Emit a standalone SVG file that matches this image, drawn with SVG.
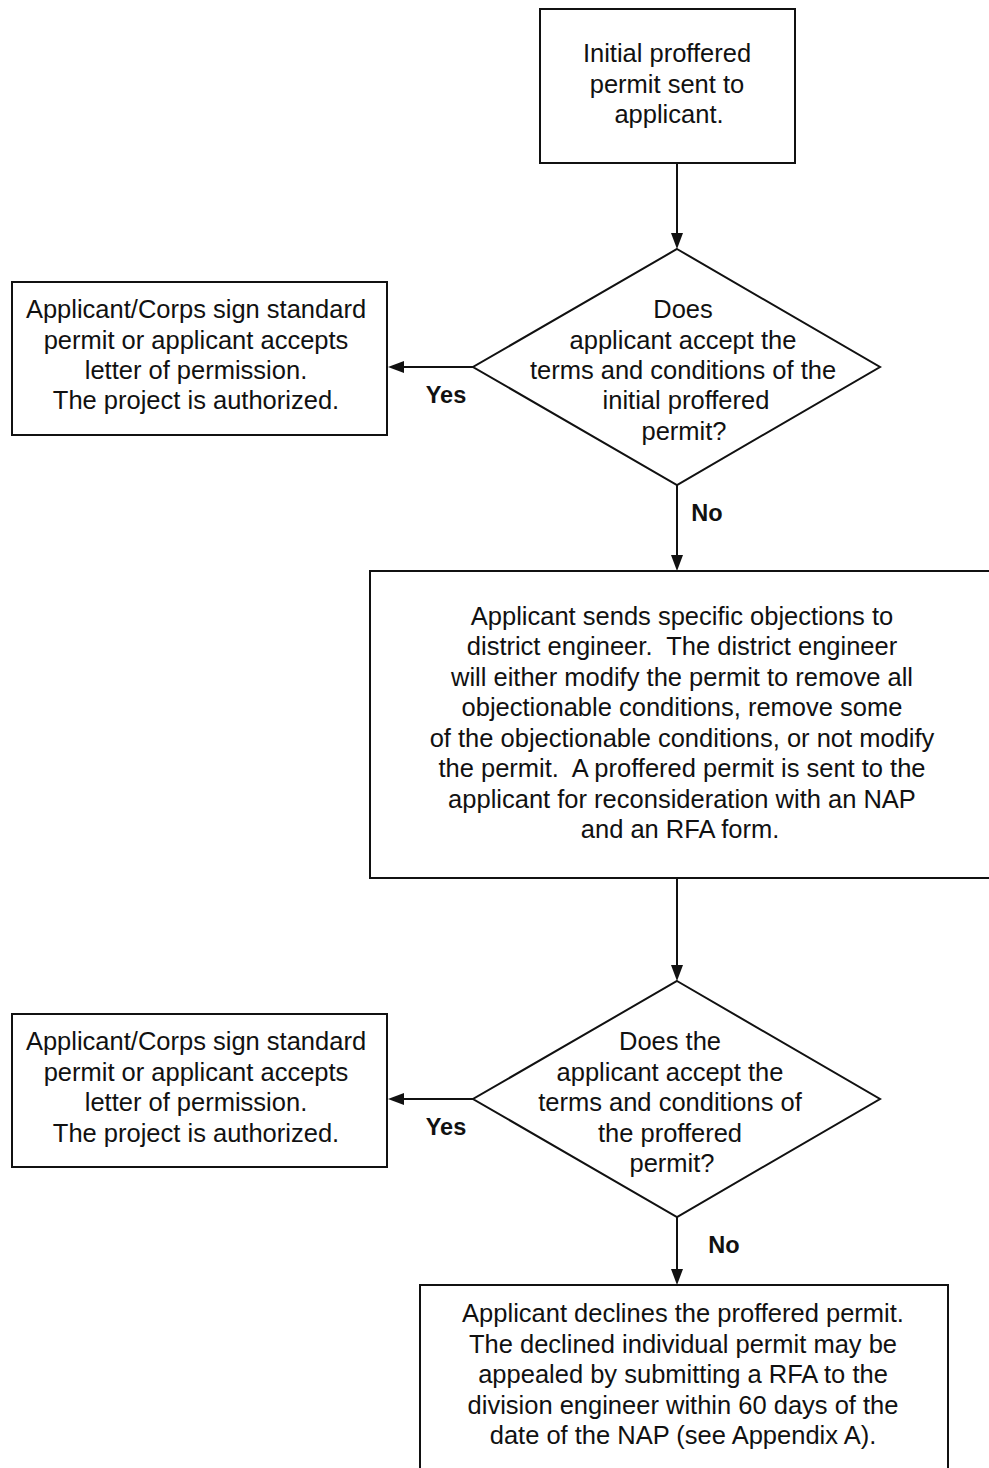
<svg xmlns="http://www.w3.org/2000/svg" width="989" height="1468" viewBox="0 0 989 1468">
<style>
.box{fill:#fff;stroke:#111;stroke-width:2}
.t{font-family:"Liberation Sans",Arial,sans-serif;font-size:25.5px;fill:#111;text-anchor:middle;white-space:pre}
.lb{font-family:"Liberation Sans",Arial,sans-serif;font-size:23.5px;font-weight:bold;fill:#111;text-anchor:middle}
.ln{stroke:#111;stroke-width:2;fill:none}
.hd{fill:#111}
</style>
<rect width="989" height="1468" fill="#fff"/>
<g id="connectors">
<line class="ln" x1="677" y1="163" x2="677" y2="234"/>
<path class="hd" d="M671,233 L683,233 L677,249 z"/>
<line class="ln" x1="473" y1="367" x2="402" y2="367"/>
<path class="hd" d="M388,367 L404,361 L404,373 z"/>
<line class="ln" x1="677" y1="485" x2="677" y2="556"/>
<path class="hd" d="M671,555 L683,555 L677,571 z"/>
<line class="ln" x1="677" y1="878" x2="677" y2="966"/>
<path class="hd" d="M671,965 L683,965 L677,981 z"/>
<line class="ln" x1="473" y1="1099" x2="402" y2="1099"/>
<path class="hd" d="M388,1099 L404,1093 L404,1105 z"/>
<line class="ln" x1="677" y1="1217" x2="677" y2="1270"/>
<path class="hd" d="M671,1269 L683,1269 L677,1285 z"/>
<text class="lb" x="446" y="403">Yes</text>
<text class="lb" x="707" y="521">No</text>
<text class="lb" x="446" y="1135">Yes</text>
<text class="lb" x="724" y="1253">No</text>
</g>
<g id="start">
<rect class="box" x="540" y="9" width="255" height="154"/>
<text class="t" x="667" y="62">Initial proffered</text>
<text class="t" x="667" y="93">permit sent to</text>
<text class="t" x="669" y="123">applicant.</text>
</g>
<g id="decision1">
<polygon class="box" points="677,249 880,367 677,485 473,367"/>
<text class="t" x="683" y="318">Does</text>
<text class="t" x="683" y="349">applicant accept the</text>
<text class="t" x="683" y="379">terms and conditions of the</text>
<text class="t" x="686" y="409">initial proffered</text>
<text class="t" x="684" y="440">permit?</text>
</g>
<g id="authorized1">
<rect class="box" x="12" y="282" width="375" height="153"/>
<text class="t" x="196" y="318">Applicant/Corps sign standard</text>
<text class="t" x="196" y="349">permit or applicant accepts</text>
<text class="t" x="196" y="379">letter of permission.</text>
<text class="t" x="196" y="409">The project is authorized.</text>
</g>
<g id="objections">
<rect class="box" x="370" y="571" width="625" height="307"/>
<text class="t" x="682" y="625">Applicant sends specific objections to</text>
<text class="t" x="682" y="655">district engineer.  The district engineer</text>
<text class="t" x="682" y="686">will either modify the permit to remove all</text>
<text class="t" x="682" y="716">objectionable conditions, remove some</text>
<text class="t" x="682" y="747">of the objectionable conditions, or not modify</text>
<text class="t" x="682" y="777">the permit.  A proffered permit is sent to the</text>
<text class="t" x="682" y="808">applicant for reconsideration with an NAP</text>
<text class="t" x="680" y="838">and an RFA form.</text>
</g>
<g id="decision2">
<polygon class="box" points="677,981 880,1099 677,1217 473,1099"/>
<text class="t" x="670" y="1050">Does the</text>
<text class="t" x="670" y="1081">applicant accept the</text>
<text class="t" x="670" y="1111">terms and conditions of</text>
<text class="t" x="670" y="1142">the proffered</text>
<text class="t" x="672" y="1172">permit?</text>
</g>
<g id="authorized2">
<rect class="box" x="12" y="1014" width="375" height="153"/>
<text class="t" x="196" y="1050">Applicant/Corps sign standard</text>
<text class="t" x="196" y="1081">permit or applicant accepts</text>
<text class="t" x="196" y="1111">letter of permission.</text>
<text class="t" x="196" y="1142">The project is authorized.</text>
</g>
<g id="declined">
<rect class="box" x="420" y="1285" width="528" height="200"/>
<text class="t" x="683" y="1322">Applicant declines the proffered permit.</text>
<text class="t" x="683" y="1353">The declined individual permit may be</text>
<text class="t" x="683" y="1383">appealed by submitting a RFA to the</text>
<text class="t" x="683" y="1414">division engineer within 60 days of the</text>
<text class="t" x="683" y="1444">date of the NAP (see Appendix A).</text>
</g>
</svg>
